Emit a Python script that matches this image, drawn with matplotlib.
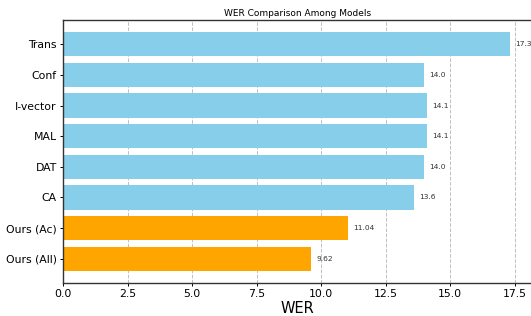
import matplotlib
matplotlib.use("Agg")
import matplotlib.pyplot as plt

# --- DATA ---
models = ["Trans", "Conf", "I-vector", "MAL", "DAT", "CA", "Ours (Ac)", "Ours (All)"]
wer = [17.3, 14.0, 14.1, 14.1, 14.0, 13.6, 11.04, 9.62]
labels = ["17.3", "14.0", "14.1", "14.1", "14.0", "13.6", "11.04", "9.62"]
colors = ["skyblue"] * 6 + ["orange"] * 2

fig = plt.figure(figsize=(5.31, 3.16), dpi=100)
ax = fig.add_axes([63 / 531, 1 - 283 / 316, 469 / 531, 263 / 316])

# top bar first -> reverse for barh
ys = list(range(len(models)))[::-1]
ax.barh(ys, wer, color=colors, height=0.8)
ax.set_yticks(ys)
ax.set_yticklabels(models, fontsize=7.8)
ax.tick_params(axis="both", labelsize=7.8, length=2.5, width=0.7, pad=2)
for sp in ax.spines.values():
    sp.set_linewidth(1.0)
    sp.set_color("#333333")

for y, w, lab in zip(ys, wer, labels):
    ax.text(w + 0.2, y, lab, va="center", ha="left", fontsize=5.4, color="#333333")

ax.set_xlabel("WER", fontsize=10.5, labelpad=1.5)
ax.set_title("WER Comparison Among Models", fontsize=6.5, pad=3)
ax.grid(axis="x", linestyle="--", color="gray", alpha=0.5, linewidth=0.7)
ax.set_axisbelow(True)

fig.savefig("out.png", dpi=100)
